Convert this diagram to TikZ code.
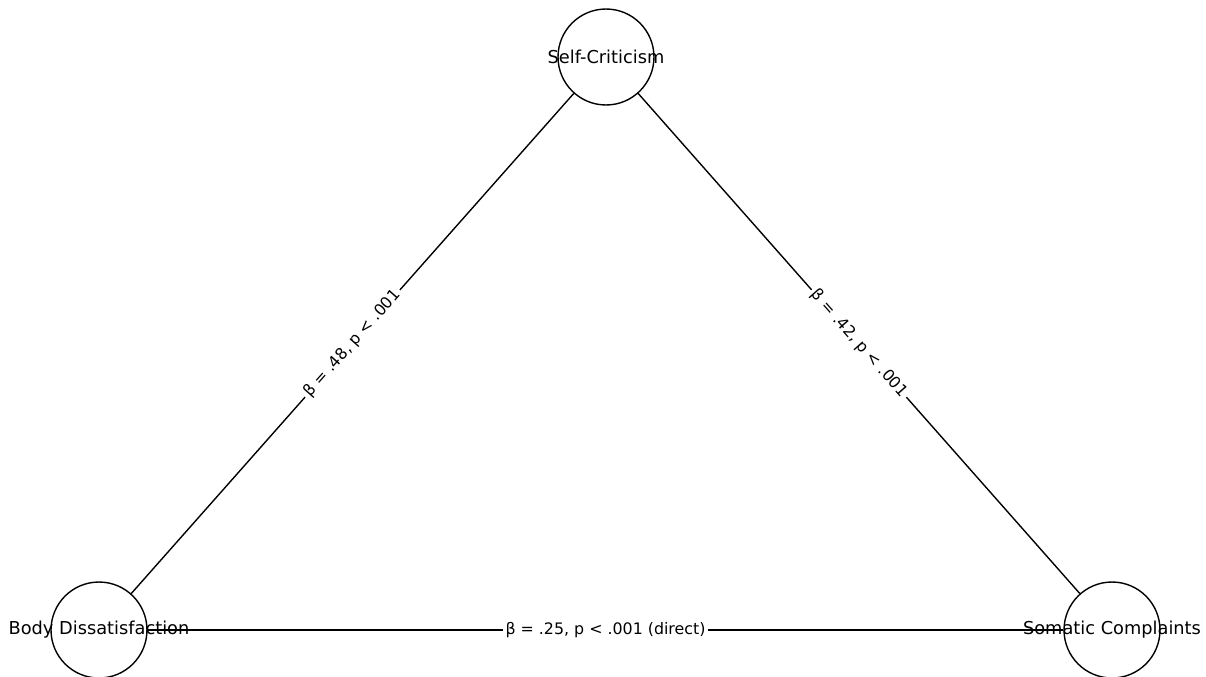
\documentclass[tikz,border=0pt]{standalone}
\usepackage{fontspec}
\setmainfont{DejaVu Sans}
\usetikzlibrary{positioning}
\tikzset{
  vert/.style={draw, circle, line width=1pt, fill=white, minimum size=69.1pt, inner sep=0pt},
  vlbl/.style={font=\fontsize{12.8}{15}\selectfont, inner sep=0pt},
  edge/.style={draw=black, line width=1pt},
  elbl/.style={font=\fontsize{11.4}{13}\selectfont, fill=white, inner sep=2pt, sloped},
}

\begin{document}
\begin{tikzpicture}[x=0.72pt, y=-0.72pt]
    \useasboundingbox (0,0) rectangle (1206,677);
    % circles
    \node[vert] (sc) at (606,57) {};
    \node[vert] (bd) at (99,630) {};
    \node[vert] (sm) at (1112,630) {};
    % paths
    \draw[edge] (bd) -- node[elbl] (bdsc) {β = .48, p < .001} (sc);
    \draw[edge] (sc) -- node[elbl] (scsm) {β = .42, p < .001} (sm);
    \draw[edge] (bd) -- node[elbl] (bdsm) {β = .25, p < .001 (direct)} (sm);
    % names
    \node[vlbl] (sc-t) at (sc) {Self-Criticism};
    \node[vlbl] (bd-t) at (bd) {Body Dissatisfaction};
    \node[vlbl] (sm-t) at (sm) {Somatic Complaints};
\end{tikzpicture}
\end{document}
